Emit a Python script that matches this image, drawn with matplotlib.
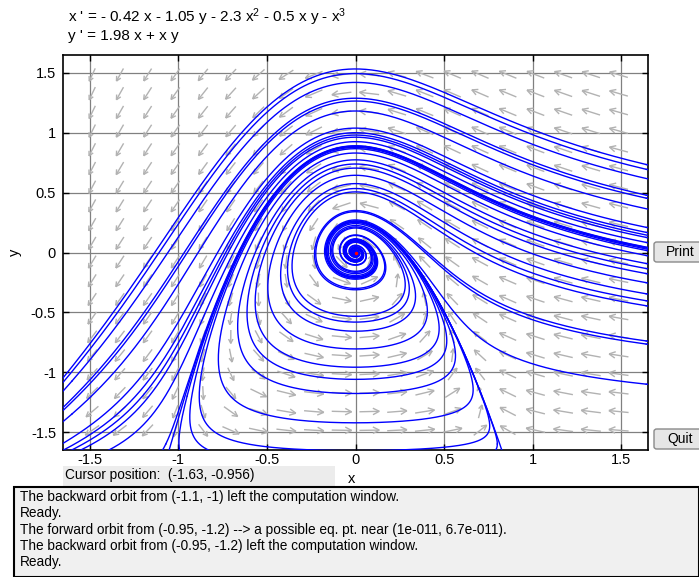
import numpy as np
import matplotlib
matplotlib.use("Agg")
import matplotlib.pyplot as plt
from matplotlib.collections import LineCollection
from matplotlib.patches import Rectangle, FancyBboxPatch

# ---------------- data ----------------
# x' = cx[0] x + cx[1] y + cx[2] x^2 + cx[3] x y + cx[4] x^3
# y' = cy[0] x + cy[1] x y
cx = [-0.42, -1.05, -2.3, -0.5, -1.0]
cy = [1.98, 1.0]

xlim = [-1.65, 1.65]
ylim = [-1.65, 1.65]
xticks = [-1.5, -1, -0.5, 0, 0.5, 1, 1.5]
yticks = [-1.5, -1, -0.5, 0, 0.5, 1, 1.5]
xticklabels = ["-1.5", "-1", "-0.5", "0", "0.5", "1", "1.5"]
yticklabels = ["-1.5", "-1", "-0.5", "0", "0.5", "1", "1.5"]

# initial points of the orbits
start_x_right = 1.64
start_y_right = [0.735, 0.695, 0.479, 0.454, 0.21, 0.168, 0.126, 0.084, 0.042,
                 0.017, -0.025, -0.092, -0.134, -0.176, -0.252, -0.345, -0.403,
                 -0.445, -0.739, -0.765, -1.10]
start_interior = [(-1.1, -1.0), (-0.95, -1.2), (-1.07, -1.6), (0.8, -1.6),
                  (-1.6, -1.075), (-1.6, -1.35)]

eq_points = [(0.0, 0.0)]

title_lines = [r"x ' = - 0.42 x - 1.05 y - 2.3 x$^{2}$ - 0.5 x y - x$^{3}$",
               "y ' = 1.98 x + x y"]
cursor_text = "Cursor position:  (-1.63, -0.956)"
messages = ["The backward orbit from (-1.1, -1) left the computation window.",
            "Ready.",
            "The forward orbit from (-0.95, -1.2) --> a possible eq. pt. near (1e-011, 6.7e-011).",
            "The backward orbit from (-0.95, -1.2) left the computation window.",
            "Ready."]

n_arrows = 20
comp_window = [-3.5, 3.5, -3.5, 3.5]

# ---------------- helpers ----------------
def field(x, y):
    fx = cx[0]*x + cx[1]*y + cx[2]*x*x + cx[3]*x*y + cx[4]*x**3
    fy = cy[0]*x + cy[1]*x*y
    return fx, fy

def integrate(x0, y0, sgn, dt=0.004, nmax=12000):
    x = np.array(x0, float); y = np.array(y0, float)
    alive = np.ones_like(x, bool)
    X = np.full((nmax + 1, x.size), np.nan); Y = X.copy()
    X[0] = x; Y[0] = y

    def F(a, b):
        u, v = field(a, b)
        return sgn*u, sgn*v

    for i in range(nmax):
        k1 = F(x, y)
        k2 = F(x + dt/2*k1[0], y + dt/2*k1[1])
        k3 = F(x + dt/2*k2[0], y + dt/2*k2[1])
        k4 = F(x + dt*k3[0], y + dt*k3[1])
        x = x + dt/6*(k1[0] + 2*k2[0] + 2*k3[0] + k4[0])
        y = y + dt/6*(k1[1] + 2*k2[1] + 2*k3[1] + k4[1])
        out = (x < comp_window[0]) | (x > comp_window[1]) | (y < comp_window[2]) | (y > comp_window[3])
        sp = np.hypot(*field(x, y))
        alive &= ~out
        alive &= ~(sp < 2e-4)
        X[i+1] = np.where(alive, x, np.nan)
        Y[i+1] = np.where(alive, y, np.nan)
        if not alive.any():
            break
    return X, Y

plt.rcParams["font.family"] = ["Liberation Sans", "DejaVu Sans"]
plt.rcParams["mathtext.fontset"] = "custom"
plt.rcParams["mathtext.rm"] = "Liberation Sans"
plt.rcParams["mathtext.it"] = "Liberation Sans"

W, H = 699, 577
fig = plt.figure(figsize=(W/100, H/100), dpi=100)
fig.patch.set_facecolor("white")

def fx_(px):
    return px / W
def fy_(py):
    return 1 - py / H

ax_l, ax_r, ax_t, ax_b = 63, 648, 55, 450
ax = fig.add_axes([fx_(ax_l), fy_(ax_b), (ax_r - ax_l)/W, (ax_b - ax_t)/H])
ax.set_xlim(xlim); ax.set_ylim(ylim)
ax.set_xticks(xticks); ax.set_xticklabels(xticklabels)
ax.set_yticks(yticks); ax.set_yticklabels(yticklabels)
ax.tick_params(direction="in", top=True, right=True, length=4, width=1, labelsize=10.5, pad=2)
ax.tick_params(axis="y", pad=5)
for s in ax.spines.values():
    s.set_linewidth(1.2)
ax.grid(True, color="#808080", lw=0.9)
ax.set_axisbelow(True)

# direction field
gx = np.linspace(-1.485, 1.485, n_arrows)
gy = np.linspace(-1.485, 1.485, n_arrows)
GX, GY = np.meshgrid(gx, gy)
U, V = field(GX, GY)
sx = (ax_r - ax_l) / (xlim[1] - xlim[0])
sy = (ax_b - ax_t) / (ylim[1] - ylim[0])
L = np.hypot(U, V); L[L == 0] = 1
un, vn = U / L, V / L
alen = 0.112
segs = []
for x0, y0, u, v in zip(GX.ravel(), GY.ravel(), un.ravel(), vn.ravel()):
    tx, ty = x0 - alen/2*u, y0 - alen/2*v
    hx, hy = x0 + alen/2*u, y0 + alen/2*v
    segs.append([(tx, ty), (hx, hy)])
    pu, pv = u*sx, v*sy
    pl = np.hypot(pu, pv)
    pu, pv = pu/pl, pv/pl
    hl = alen*0.36*pl
    for ang in (np.deg2rad(27), -np.deg2rad(27)):
        ca, sa = np.cos(ang), np.sin(ang)
        bu = -(pu*ca - pv*sa); bv = -(pu*sa + pv*ca)
        segs.append([(hx, hy), (hx + bu*hl/sx, hy + bv*hl/sy)])
ax.add_collection(LineCollection(segs, colors="#b2b2b2", linewidths=1.0, zorder=2))

# orbits
x0s = [start_x_right]*len(start_y_right) + [p[0] for p in start_interior]
y0s = list(start_y_right) + [p[1] for p in start_interior]
for sgn in (1, -1):
    X, Y = integrate(x0s, y0s, sgn)
    for k in range(len(x0s)):
        ax.plot(X[:, k], Y[:, k], color="#0000ff", lw=1.0, zorder=3)

for ex, ey in eq_points:
    ax.plot([ex], [ey], "o", color="red", ms=1.5, zorder=4)

# title text
fig.text(fx_(68), fy_(17), title_lines[0], fontsize=11, va="center", ha="left")
fig.text(fx_(68), fy_(36), title_lines[1], fontsize=11, va="center", ha="left")

# axis labels
fig.text(fx_(15), fy_(252), "y", fontsize=10.5, rotation=90, va="center", ha="center")

# cursor box
fig.patches.append(Rectangle((fx_(63), fy_(486)), (335-63)/W, (486-466)/H,
                             transform=fig.transFigure, facecolor="#ececec", edgecolor="none",
                             zorder=0))
fig.text(fx_(65), fy_(475), cursor_text, fontsize=9.8, va="center")
fig.text(fx_(352), fy_(479), "x", fontsize=10.5, va="center", ha="center")

# message box
fig.patches.append(Rectangle((fx_(14), fy_(577)), (699-14)/W, (577-487)/H,
                             transform=fig.transFigure, facecolor="#f0f0f0", edgecolor="black", lw=1.5))
for i, m in enumerate(messages):
    fig.text(fx_(20), fy_(497 + 16.3*i), m, fontsize=9.8, va="center")

# buttons
for label, ytop in (("Print", 242), ("Quit", 429)):
    fig.patches.append(FancyBboxPatch((fx_(654), fy_(ytop + 20)), 50/W, 20/H,
                                      boxstyle="round,pad=0,rounding_size=0.004",
                                      transform=fig.transFigure, facecolor="#e6e6e6",
                                      edgecolor="#8a8a8a", lw=1))
    fig.text(fx_(680), fy_(ytop + 10), label, fontsize=10, va="center", ha="center")

fig.savefig("out.png", dpi=100)
